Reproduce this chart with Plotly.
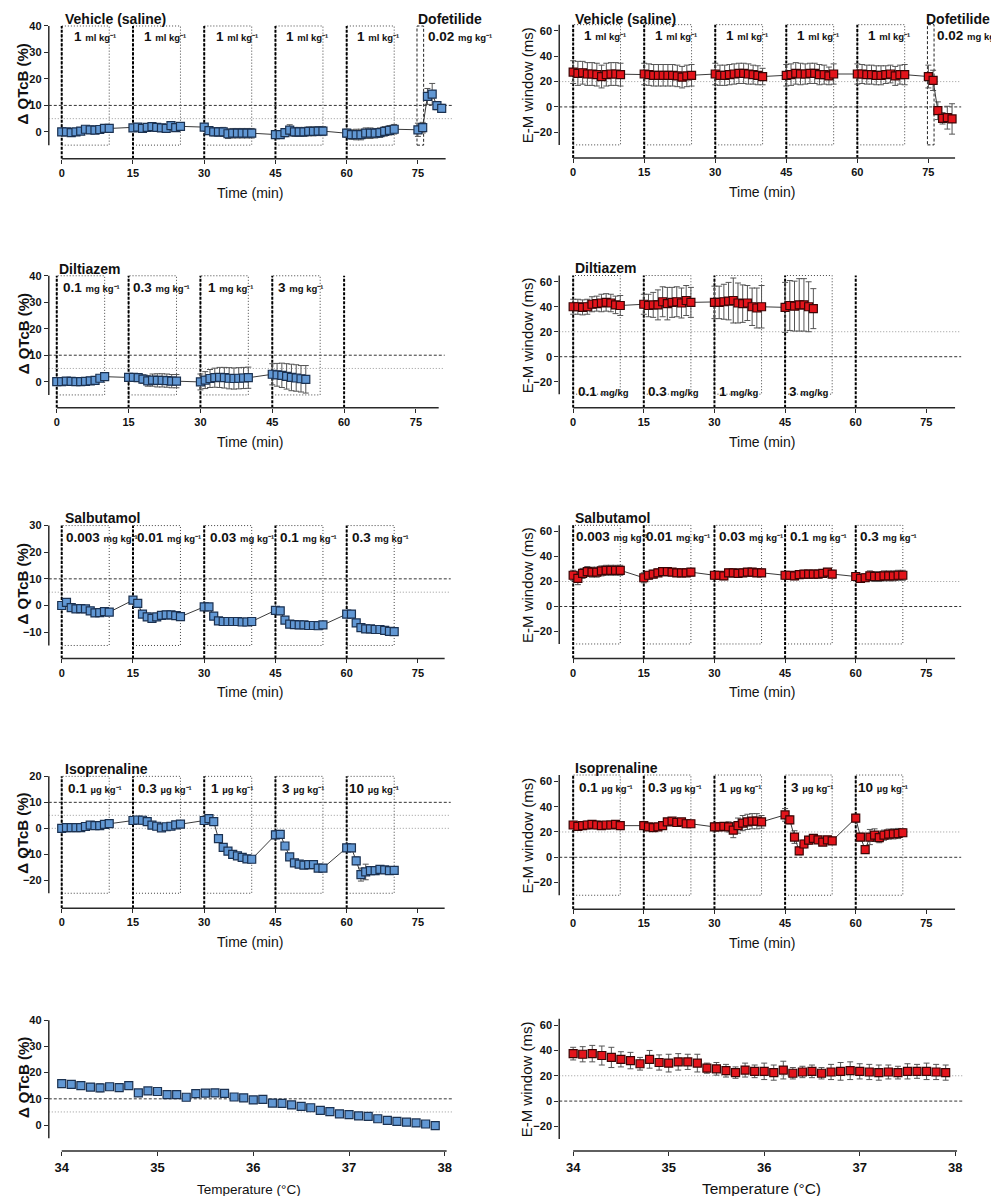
import plotly.graph_objects as go

W, H = 999, 1196
FONT = "Liberation Sans, Arial, Helvetica, sans-serif"
BLUE, BLUE_EDGE = "#6197d3", "#1b3150"
RED, RED_EDGE = "#e3141b", "#3a0505"
AXC = "#2a2a2a"

# ---------------- data ----------------
T5 = [0, 1, 2, 3, 4, 5, 6, 7, 8, 9, 10,
      15, 16, 17, 18, 19, 20, 21, 22, 23, 24, 25,
      30, 31, 32, 33, 34, 35, 36, 37, 38, 39, 40,
      45, 46, 47, 48, 49, 50, 51, 52, 53, 54, 55,
      60, 61, 62, 63, 64, 65, 66, 67, 68, 69, 70]
T_VEH = T5 + [75, 76, 77, 78, 79, 80]
T_DIL_QT = [0, 1, 2, 3, 4, 5, 6, 7, 8, 9, 10,
            15, 16, 17, 18, 19, 20, 21, 22, 23, 24, 25,
            30, 31, 32, 33, 34, 35, 36, 37, 38, 39, 40,
            45, 46, 47, 48, 49, 50, 51, 52]
T_DIL_EM = [0, 1, 2, 3, 4, 5, 6, 7, 8, 9, 10,
            15, 16, 17, 18, 19, 20, 21, 22, 23, 24, 25,
            30, 31, 32, 33, 34, 35, 36, 37, 38, 39, 40,
            45, 46, 47, 48, 49, 50, 51]
TEMP = [34.0, 34.1, 34.2, 34.3, 34.4, 34.5, 34.6, 34.7, 34.8, 34.9,
        35.0, 35.1, 35.2, 35.3, 35.4, 35.5, 35.6, 35.7, 35.8, 35.9,
        36.0, 36.1, 36.2, 36.3, 36.4, 36.5, 36.6, 36.7, 36.8, 36.9,
        37.0, 37.1, 37.2, 37.3, 37.4, 37.5, 37.6, 37.7, 37.8, 37.9]

VEH_QT = [0.0, 0.0, -0.3, 0.0, 0.3, 1.0, 0.8, 0.7, 0.9, 1.3, 1.3,
          1.5, 1.8, 1.3, 1.7, 2.0, 1.7, 1.5, 1.3, 2.4, 1.6, 2.1,
          1.8, 0.5, 0.0, 0.0, 0.0, -0.7, -0.5, -0.5, -0.5, -0.5, -0.5,
          -1.0, -1.0, -0.3, 0.7, 0.0, 0.0, 0.0, 0.2, 0.2, 0.3, 0.3,
          -0.5, -1.0, -1.0, -1.0, -0.5, -0.5, -0.5, -0.3, 0.2, 0.6, 1.0,
          0.8, 1.6, 13.4, 14.3, 9.9, 8.9]
VEH_QT_ERR = [0.4, 0.4, 0.4, 0.4, 0.5, 0.5, 0.5, 0.5, 0.5, 0.5, 0.5,
              0.6, 0.6, 0.7, 0.8, 0.8, 0.9, 1.2, 1.0, 1.0, 0.8, 0.8,
              1.2, 1.3, 1.5, 1.6, 1.7, 1.8, 1.8, 1.8, 1.8, 1.8, 1.8,
              1.2, 1.3, 1.5, 2.0, 1.7, 1.7, 1.7, 1.7, 1.7, 1.7, 1.7,
              1.5, 1.8, 2.0, 2.0, 2.0, 2.0, 1.8, 1.8, 1.8, 1.8, 1.8,
              2.5, 2.0, 3.0, 4.0, 1.5, 1.5]
VEH_EM = [27.5, 26.5, 27.0, 26.0, 26.0, 25.5, 24.0, 25.5, 26.0, 26.0, 25.5,
          26.0, 25.5, 25.0, 25.0, 25.0, 25.0, 25.0, 24.5, 23.5, 24.5, 25.0,
          26.0, 25.0, 25.0, 25.5, 26.0, 26.5, 26.5, 26.0, 25.5, 25.0, 24.0,
          25.0, 25.5, 26.5, 26.0, 26.0, 26.5, 26.5, 25.5, 25.5, 24.5, 26.0,
          26.0, 26.0, 25.5, 25.5, 25.0, 25.0, 25.5, 26.0, 24.5, 25.5, 25.5,
          24.0, 21.0, -3.0, -9.0, -8.5, -9.5]
VEH_EM_ERR = [9.0, 9.5, 9.0, 9.0, 9.0, 9.0, 9.0, 9.0, 9.0, 9.0, 9.0,
              8.5, 8.5, 8.5, 8.5, 8.5, 8.5, 8.5, 8.5, 8.5, 8.5, 8.5,
              8.5, 8.0, 8.0, 8.0, 8.0, 8.0, 8.0, 8.0, 7.5, 7.5, 6.5,
              8.5, 8.5, 8.5, 8.5, 8.0, 8.0, 8.0, 8.0, 7.5, 7.0, 8.0,
              8.0, 7.5, 7.5, 7.5, 7.5, 7.5, 7.0, 7.0, 7.5, 7.5, 8.0,
              9.0, 8.0, 7.0, 4.5, 9.0, 12.0]

DIL_QT = [0.0, 0.0, 0.2, 0.1, 0.0, 0.0, 0.1, 0.3, 0.5, 1.3, 1.9,
          1.6, 1.6, 1.5, 1.0, 0.3, 0.6, 0.5, 0.5, 0.4, 0.2, 0.2,
          -0.1, 0.6, 1.2, 1.5, 1.6, 1.5, 1.3, 1.2, 1.3, 1.4, 1.5,
          2.8, 2.6, 2.4, 2.0, 1.6, 1.4, 1.1, 0.9]
DIL_QT_ERR = [0.3, 0.3, 0.3, 0.3, 0.3, 0.3, 0.3, 0.3, 0.3, 0.5, 0.6,
              0.8, 1.0, 1.3, 1.6, 2.0, 2.3, 2.5, 2.5, 2.5, 2.5, 2.5,
              3.0, 3.2, 3.4, 3.6, 3.8, 3.9, 4.0, 4.0, 4.0, 4.0, 4.0,
              4.0, 4.3, 4.6, 4.8, 5.0, 5.0, 5.0, 5.2]
DIL_EM = [40.0, 40.0, 39.5, 40.0, 42.0, 42.5, 43.0, 43.5, 43.0, 41.5, 41.0,
          42.0, 41.0, 41.5, 41.5, 44.0, 42.5, 43.5, 44.0, 43.0, 45.0, 43.5,
          43.5, 43.5, 44.0, 44.5, 45.0, 43.0, 42.5, 43.0, 40.0, 39.0, 40.0,
          39.5, 41.0, 40.5, 41.5, 41.5, 40.0, 38.5]
DIL_EM_ERR = [6, 6, 6, 6, 6, 6, 7, 7, 7, 7, 8,
              8, 9, 10, 12, 12, 13, 12, 12, 12, 12, 12,
              13, 13, 14, 15, 18, 16, 15, 14, 15, 16, 17,
              20, 20, 20, 21, 21, 20, 16]

SAL_QT = [0.0, 1.2, -0.8, -1.3, -1.2, -1.3, -2.0, -2.8, -2.7, -2.3, -2.5,
          2.0, 0.8, -3.2, -4.3, -4.8, -4.3, -3.7, -3.5, -3.5, -3.8, -4.2,
          -0.5, -0.5, -4.0, -5.8, -6.0, -6.0, -6.0, -6.0, -6.2, -6.2, -6.0,
          -1.8, -2.0, -5.5, -7.0, -7.2, -7.3, -7.3, -7.5, -7.5, -7.6, -7.3,
          -3.2, -3.2, -6.5, -8.3, -8.8, -8.8, -9.0, -9.0, -9.3, -9.7, -9.8]
SAL_QT_ERR = [0.4, 0.8, 0.7, 0.6, 0.6, 0.6, 0.6, 0.7, 0.7, 0.6, 0.6,
              0.6, 0.8, 0.7, 0.6, 0.6, 0.6, 0.6, 0.6, 0.6, 0.6, 0.6,
              0.6, 0.6, 0.8, 1.0, 0.8, 0.8, 0.8, 0.8, 0.8, 0.8, 0.8,
              0.8, 0.8, 0.8, 0.7, 0.7, 0.7, 0.7, 0.7, 0.7, 0.7, 0.7,
              0.8, 0.8, 0.8, 0.7, 0.7, 0.7, 0.7, 0.7, 0.8, 0.8, 0.8]
SAL_EM = [25.0, 22.5, 26.5, 28.0, 27.5, 27.5, 28.5, 29.0, 29.0, 29.0, 29.0,
          23.0, 25.0, 26.0, 27.0, 28.0, 28.0, 27.5, 27.0, 27.0, 27.0, 27.5,
          25.0, 25.0, 24.5, 27.0, 27.0, 26.5, 27.0, 27.5, 27.5, 27.0, 27.0,
          25.0, 25.0, 24.5, 25.5, 26.0, 26.0, 26.0, 26.0, 26.5, 27.5, 26.0,
          24.0, 22.5, 23.0, 24.5, 24.0, 24.0, 24.5, 24.5, 24.5, 25.0, 25.0]
SAL_EM_ERR = [4, 5, 4, 4, 4, 4, 4, 4, 4, 4, 4,
              4, 3, 3, 3, 2, 2, 2, 2, 2, 2, 3,
              3, 3, 3, 3, 3, 3, 3, 3, 3, 3, 3,
              3, 3, 3, 3, 3, 3, 3, 3, 3, 3, 3,
              3, 3, 3, 4, 4, 4, 4, 4, 4, 4, 4]

ISO_QT = [0.0, 0.3, 0.3, 0.3, 0.3, 0.7, 1.2, 1.0, 1.0, 1.5, 1.8,
          3.0, 3.2, 3.1, 2.6, 1.2, 0.8, 0.2, 0.6, 0.8, 1.3, 1.6,
          3.0, 3.7, 2.6, -4.0, -7.3, -8.8, -10.0, -10.6, -11.2, -11.8, -11.9,
          -2.5, -2.3, -6.8, -11.0, -13.3, -13.8, -14.2, -14.0, -14.0, -15.3, -15.3,
          -7.5, -7.5, -12.5, -17.8, -16.8, -16.3, -16.3, -15.8, -16.0, -16.3, -16.2]
ISO_QT_ERR = [0.3, 0.3, 0.3, 0.3, 0.3, 0.3, 0.3, 0.3, 0.3, 0.3, 0.3,
              0.4, 0.4, 0.4, 0.4, 0.4, 0.4, 0.4, 0.4, 0.4, 0.4, 0.4,
              0.4, 0.5, 0.5, 0.5, 0.5, 0.5, 0.5, 0.5, 0.5, 0.5, 0.5,
              1.5, 1.5, 0.8, 0.8, 0.6, 0.6, 0.6, 0.6, 0.6, 0.6, 0.6,
              0.8, 0.8, 1.5, 2.5, 3.0, 1.5, 1.5, 1.2, 1.2, 1.2, 1.2]
ISO_EM = [25.5, 24.5, 25.0, 25.5, 26.0, 25.5, 25.0, 25.5, 25.5, 26.0, 25.0,
          25.0, 24.0, 23.5, 24.0, 25.0, 28.0, 28.5, 27.5, 28.0, 26.5, 26.5,
          24.0, 24.0, 24.5, 24.0, 21.5, 25.0, 27.0, 28.0, 28.5, 28.5, 28.0,
          33.5, 29.5, 16.0, 5.0, 10.5, 13.5, 15.0, 13.8, 12.0, 13.8, 13.0,
          31.0, 16.0, 6.0, 16.0, 17.5, 15.5, 17.5, 18.3, 18.5, 18.8, 19.4]
ISO_EM_ERR = [2.5, 2.5, 2.5, 3, 3, 3, 2.5, 2.5, 2.5, 2.5, 2.5,
              1.5, 1.5, 1.5, 1.5, 1.5, 1.5, 1.5, 1.5, 1.5, 1.5, 1.5,
              3, 3, 3, 4, 6, 6, 6, 6, 6, 6, 5,
              5, 3, 5, 3, 3, 3, 3, 2, 2, 2, 2,
              3, 3, 3, 6, 5, 4, 4, 4, 4, 4, 3]

TEMP_QT = [15.8, 15.5, 15.0, 14.5, 14.2, 14.6, 14.3, 15.0, 12.3, 13.0,
           12.8, 11.6, 11.6, 10.6, 12.0, 12.2, 12.3, 12.1, 10.7, 10.4,
           9.6, 9.8, 8.4, 8.3, 7.7, 7.1, 6.6, 5.6, 5.1, 4.3,
           4.0, 3.5, 3.3, 2.4, 1.8, 1.4, 1.1, 0.8, 0.4, -0.2]
TEMP_QT_ERR = [0.8, 0.6, 0.8, 0.8, 1.5, 0.8, 1.2, 0.8, 1.2, 0.8,
               0.8, 0.8, 0.8, 0.6, 1.2, 0.8, 0.8, 1.0, 1.0, 1.2,
               1.3, 1.0, 1.3, 1.0, 1.3, 0.8, 1.0, 0.8, 0.6, 0.6,
               0.6, 0.6, 0.6, 0.6, 0.6, 0.6, 0.6, 0.6, 0.6, 0.6]
TEMP_EM = [37.5, 37.0, 37.5, 36.0, 34.5, 33.0, 32.0, 29.5, 33.0, 30.5,
           30.0, 31.0, 31.0, 30.0, 26.0, 25.5, 24.0, 22.5, 24.5, 23.5,
           23.5, 22.5, 24.5, 22.0, 23.0, 23.5, 22.0, 23.0, 23.5, 24.0,
           23.5, 23.0, 22.5, 23.0, 22.5, 23.5, 23.5, 23.5, 23.0, 22.5]
TEMP_EM_ERR = [5, 6, 6.5, 7.5, 8, 6, 6.5, 5, 7, 6,
               7, 6.5, 6, 7, 4, 5, 5, 4.5, 5.5, 5,
               6.5, 6, 7, 4.5, 4.5, 5, 4.5, 6, 7, 7,
               6, 6, 6, 5.5, 5, 6, 5.5, 6.5, 6, 6]

DOSE_STARTS_5 = [0, 15, 30, 45, 60]
DOSE_STARTS_4 = [0, 15, 30, 45]
VEH_DOSES = ["1", "1", "1", "1", "1"]
DIL_DOSES = ["0.1", "0.3", "1", "3"]
SAL_DOSES = ["0.003", "0.01", "0.03", "0.1", "0.3"]
ISO_DOSES = ["0.1", "0.3", "1", "3", "10"]
TIME_TICKS = [0, 15, 30, 45, 60, 75]
TEMP_TICKS = [34, 35, 36, 37, 38]
QT_TICKS_40 = [0, 10, 20, 30, 40]
QT_TICKS_SAL = [-10, 0, 10, 20, 30]
QT_TICKS_ISO = [-20, -10, 0, 10, 20]
EM_TICKS = [-20, 0, 20, 40, 60]

# ---------------- figure ----------------
fig = go.Figure()
layout = dict(width=W, height=H, margin=dict(l=0, r=0, t=0, b=0),
              paper_bgcolor="white", plot_bgcolor="white", showlegend=False,
              font=dict(family=FONT, color="#111"))
shapes, annos = [], []


def ids(n):
    return ("x", "y") if n == 1 else (f"x{n}", f"y{n}")


def paper(px, py):
    return px / W, 1 - py / H


def text(px, py, s, size, bold=False, anchor="left", angle=0):
    x, y = paper(px, py)
    annos.append(dict(xref="paper", yref="paper", x=x, y=y,
                      text=f"<b>{s}</b>" if bold else s, showarrow=False,
                      xanchor=anchor, yanchor="middle", textangle=angle,
                      font=dict(size=size, family=FONT, color="#111")))


def panel(n, xcal, ycal, box, xticks, yticks, yline, xfont=11):
    pa, va, pb, vb = xcal
    sx = (vb - va) / (pb - pa)
    qa, wa, qb, wb = ycal
    sy = (wb - wa) / (qb - qa)
    left, right, bottom, top = box
    xr = [va + (left - pa) * sx, va + (right - pa) * sx]
    yr = [wa + (bottom - qa) * sy, wa + (top - qa) * sy]
    xid, yid = ids(n)
    common = dict(ticks="outside", ticklen=4, tickwidth=1.3, tickcolor=AXC,
                  showline=False, showgrid=False, zeroline=False)
    layout["xaxis" if n == 1 else f"xaxis{n}"] = dict(
        domain=[left / W, right / W], range=xr, anchor=yid, tickvals=xticks,
        tickfont=dict(size=xfont, family=FONT, weight="bold", color="#111"), **common)
    layout["yaxis" if n == 1 else f"yaxis{n}"] = dict(
        domain=[1 - bottom / H, 1 - top / H], range=yr, anchor=xid, tickvals=yticks,
        tickfont=dict(size=11, family=FONT, weight="bold", color="#111"), **common)
    shapes.append(dict(type="line", xref=f"{xid} domain", yref=yid, x0=0, x1=0,
                       y0=yline[0], y1=yline[1], line=dict(color=AXC, width=1.5)))
    shapes.append(dict(type="line", xref=xid, yref=f"{yid} domain", x0=xticks[0], x1=xr[1],
                       y0=0, y1=0, line=dict(color=AXC, width=1.5)))
    ypx = lambda v: qa + (v - wa) / sy
    return dict(n=n, xr=xr, yr=yr, ypx=ypx, bottom=bottom)


def hline(p, y, dark):
    xid, yid = ids(p["n"])
    shapes.append(dict(type="line", xref=f"{xid} domain", yref=yid, x0=0, x1=1.015, y0=y, y1=y,
                       layer="below",
                       line=dict(color="#333" if dark else "#999", width=1,
                                 dash="3px,2px" if dark else "1px,2px")))


def boxes(p, starts, bottom, top, extra_heavy=()):
    xid, yid = ids(p["n"])
    for s in starts:
        shapes.append(dict(type="rect", xref=xid, yref=yid, x0=s, x1=s + 10, y0=bottom, y1=top,
                           layer="below", line=dict(color="#444", width=1, dash="1px,2px")))
    for s in list(starts) + list(extra_heavy):
        shapes.append(dict(type="line", xref=xid, yref=yid, x0=s, x1=s, y0=p["yr"][0], y1=top,
                           layer="below", line=dict(color="#000", width=2, dash="3px,1.5px")))


def dof_box(p, bottom, top):
    xid, yid = ids(p["n"])
    shapes.append(dict(type="rect", xref=xid, yref=yid, x0=74.8, x1=76.2, y0=bottom, y1=top,
                       layer="below", line=dict(color="#222", width=1, dash="3px,2px")))


def series(p, xs, ys, errs, color, edge, line=True):
    xid, yid = ids(p["n"])
    fig.add_trace(go.Scatter(
        x=xs, y=ys, xaxis=xid, yaxis=yid, mode="lines+markers" if line else "markers",
        line=dict(color="#3a3a3a", width=1),
        marker=dict(symbol="square", size=8, color=color, line=dict(color=edge, width=1.2)),
        error_y=dict(type="data", array=errs, visible=True, color="#555", thickness=1, width=3),
        cliponaxis=False, hoverinfo="skip"))


def dose_label(p, xs, nums, unit, ypx, sup=True):
    xid, _ = ids(p["n"])
    for x, num in zip(xs, nums):
        u = f"{unit}\u207b\u00b9" if sup else unit
        annos.append(dict(xref=xid, yref="paper", x=x, y=1 - ypx / H, showarrow=False,
                          xanchor="left", yanchor="middle",
                          text=f"<b>{num} <span style='font-size:9.5px'>{u}</span></b>",
                          font=dict(size=13.5, family=FONT, color="#111")))


# ---- panels: left column (QTcB) ----
P1 = panel(1, (54, 0, 412, 75), (123, 0, 17, 40), (41, 440, 150, 12), TIME_TICKS, QT_TICKS_40, (-5, 40))
P2 = panel(2, (49, 0, 410, 75), (373, 0, 267, 40), (41, 433, 399, 262), TIME_TICKS, QT_TICKS_40, (-5, 40))
P3 = panel(3, (54, 0, 412, 75), (597, 0, 517, 30), (41, 439, 650, 512), TIME_TICKS, QT_TICKS_SAL, (-15, 30))
P4 = panel(4, (54, 0, 412, 75), (820, 0, 768, 20), (41, 439, 900, 762), TIME_TICKS, QT_TICKS_ISO, (-25, 20))
P5 = panel(5, (54, 34, 439, 38), (1117, 0, 1012, 40), (41, 441, 1143, 1005), TEMP_TICKS, QT_TICKS_40, (-5, 40), 13)
# ---- right column (E-M window) ----
P6 = panel(6, (568, 0, 925, 75), (98, 0, 22, 60), (554, 952, 149, 12), TIME_TICKS, EM_TICKS, (-30, 65))
P7 = panel(7, (568, 0, 923, 75), (348, 0, 273, 60), (554, 952, 399, 262), TIME_TICKS, EM_TICKS, (-30, 65))
P8 = panel(8, (568, 0, 923, 75), (598, 0, 523, 60), (554, 952, 650, 512), TIME_TICKS, EM_TICKS, (-30, 65))
P9 = panel(9, (568, 0, 923, 75), (849, 0, 773, 60), (554, 952, 901, 762), TIME_TICKS, EM_TICKS, (-30, 65))
P10 = panel(10, (568, 34, 952, 38), (1093, 0, 1017, 60), (554, 954, 1143, 1005), TEMP_TICKS, EM_TICKS, (-30, 65), 13)

for p in (P1, P2, P3, P5):
    hline(p, 10, True)
    hline(p, 5, False)
hline(P4, 10, True)
hline(P4, 5, False)
hline(P4, 0, False)
for p in (P6, P7, P8, P9, P10):
    hline(p, 20, False)
    hline(p, 0, True)

boxes(P1, DOSE_STARTS_5, -5, 40)
dof_box(P1, -5, 40)
boxes(P2, DOSE_STARTS_4, -5, 40, extra_heavy=[60])
boxes(P3, DOSE_STARTS_5, -15, 30)
boxes(P4, DOSE_STARTS_5, -25, 20)
boxes(P6, DOSE_STARTS_5, -30, 65)
dof_box(P6, -30, 65)
boxes(P7, DOSE_STARTS_4, -30, 65, extra_heavy=[60])
boxes(P8, DOSE_STARTS_5, -30, 65)
boxes(P9, DOSE_STARTS_5, -30, 65)

series(P1, T_VEH, VEH_QT, VEH_QT_ERR, BLUE, BLUE_EDGE)
series(P2, T_DIL_QT, DIL_QT, DIL_QT_ERR, BLUE, BLUE_EDGE)
series(P3, T5, SAL_QT, SAL_QT_ERR, BLUE, BLUE_EDGE)
series(P4, T5, ISO_QT, ISO_QT_ERR, BLUE, BLUE_EDGE)
series(P5, TEMP, TEMP_QT, TEMP_QT_ERR, BLUE, BLUE_EDGE, line=False)
series(P6, T_VEH, VEH_EM, VEH_EM_ERR, RED, RED_EDGE)
series(P7, T_DIL_EM, DIL_EM, DIL_EM_ERR, RED, RED_EDGE)
series(P8, T5, SAL_EM, SAL_EM_ERR, RED, RED_EDGE)
series(P9, T5, ISO_EM, ISO_EM_ERR, RED, RED_EDGE)
series(P10, TEMP, TEMP_EM, TEMP_EM_ERR, RED, RED_EDGE, line=False)

# ---- dose labels ----
dose_label(P1, [2.1, 17.0, 32.0, 46.9, 61.8], VEH_DOSES, "ml kg", 28)
dose_label(P1, [76.7], ["0.02"], "mg kg", 28)
dose_label(P6, [1.9, 16.8, 31.9, 46.8, 61.8], VEH_DOSES, "ml kg", 27)
dose_label(P6, [76.3], ["0.02"], "mg kg", 27)
dose_label(P2, [0.8, 15.4, 31.2, 45.7], DIL_DOSES, "mg kg", 279)
dose_label(P7, [0.6, 15.4, 30.5, 45.5], DIL_DOSES, "mg/kg", 383, sup=False)
dose_label(P3, [0.4, 15.4, 30.8, 45.6, 60.6], SAL_DOSES, "mg kg", 529)
dose_label(P8, [0.2, 15.1, 30.5, 45.6, 60.5], SAL_DOSES, "mg kg", 528)
dose_label(P4, [1.0, 15.7, 31.0, 46.0, 60.0], ISO_DOSES, "µg kg", 780)
dose_label(P9, [0.8, 15.5, 30.5, 45.8, 60.0], ISO_DOSES, "µg kg", 779)

# ---- panel titles ----
for px, py, s in [(55, 10, "Vehicle (saline)"), (410, 10, "Dofetilide"),
                  (568, 10, "Vehicle (saline)"), (921, 10, "Dofetilide"),
                  (49, 260, "Diltiazem"), (568, 259, "Diltiazem"),
                  (55, 509, "Salbutamol"), (568, 509, "Salbutamol"),
                  (55, 761, "Isoprenaline"), (568, 760, "Isoprenaline")]:
    text(px, py, s, 14, bold=True)

# ---- axis titles ----
for p, yl in [(P1, (-5, 40)), (P2, (-5, 40)), (P3, (-15, 30)), (P4, (-25, 20)), (P5, (-5, 40))]:
    cy = p["ypx"]((yl[0] + yl[1]) / 2) - 2
    text(15, cy, "Δ QTcB (%)", 15, bold=True, anchor="center", angle=-90)
for p in (P6, P7, P8, P9, P10):
    cy = p["ypx"](17.5)
    text(522, cy, "E-M window (ms)", 15, anchor="center", angle=-90)
for pl, pr in ((P1, P6), (P2, P7), (P3, P8), (P4, P9)):
    text(243, pl["bottom"] + 34, "Time (min)", 14, anchor="center")
    text(758, pr["bottom"] + 34, "Time (min)", 14, anchor="center")
text(242, 1181, "Temperature (°C)", 13.5, anchor="center")
text(757, 1180, "Temperature (°C)", 15.5, anchor="center")

layout["shapes"] = shapes
layout["annotations"] = annos
fig.update_layout(**layout)
fig.write_html("out.html")
